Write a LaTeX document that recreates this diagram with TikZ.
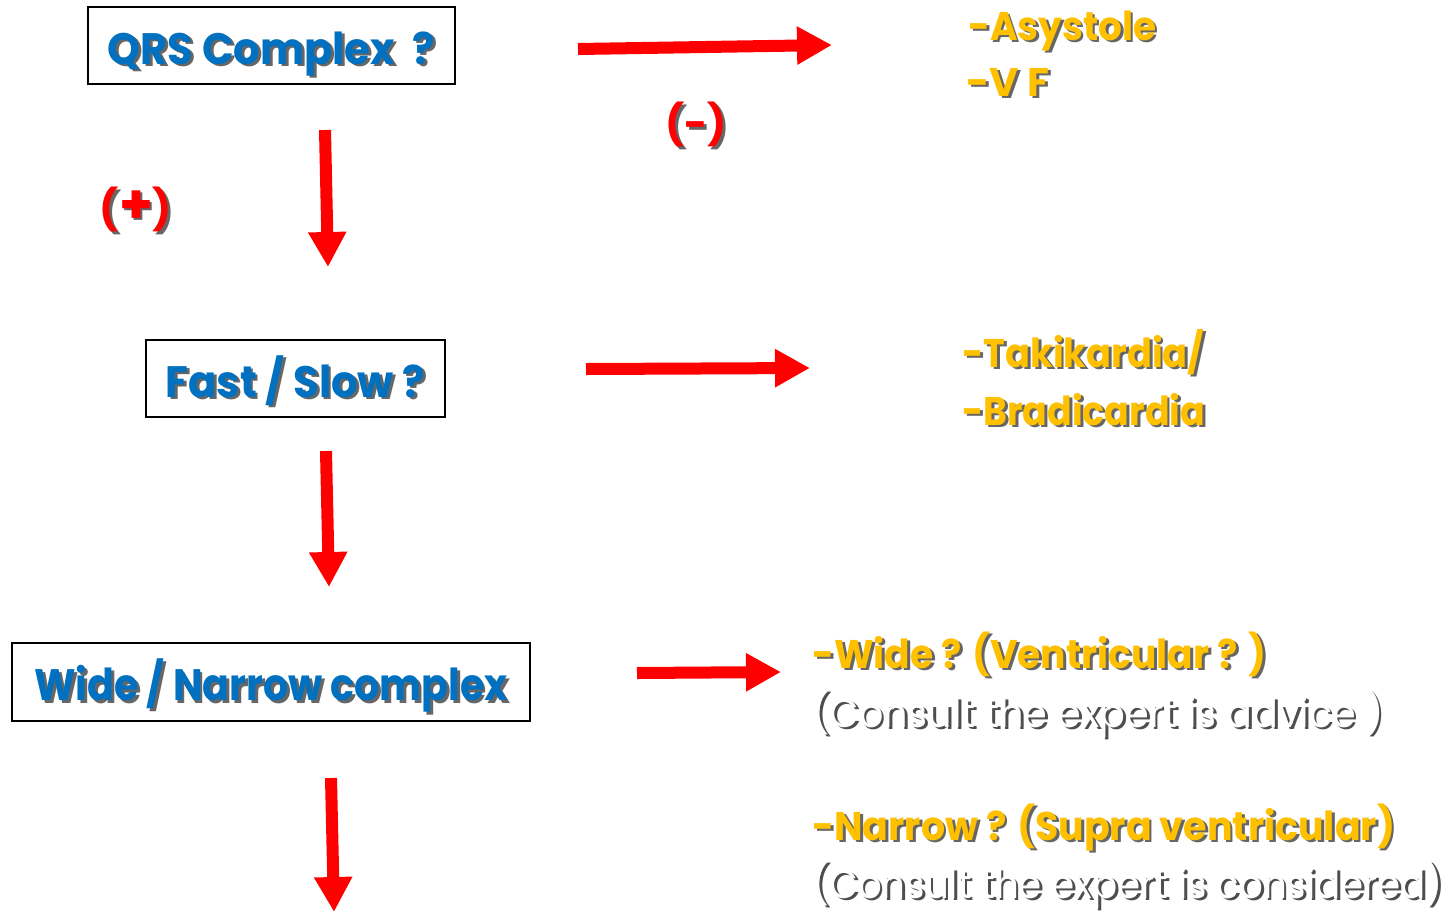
\documentclass[tikz,border=0pt]{standalone}
\usepackage{fontspec}
\setmainfont{Poppins}
\usetikzlibrary{arrows.meta}
\definecolor{qblue}{HTML}{0070C0}
\definecolor{qgold}{HTML}{FFC000}
\definecolor{qred}{HTML}{FF0000}
\definecolor{qshade}{HTML}{404040}
\definecolor{qdark}{HTML}{3A3A3A}
% text with a drop shadow below and to the right; #1 = horizontal scale
\newcommand\shadowed[3][1]{\makebox[0pt][l]{\hspace{1.4pt}\raisebox{-1.4pt}{\scalebox{#1}[1]{\textcolor{qshade!80}{#3}}}}\scalebox{#1}[1]{\textcolor{#2}{#3}}}
% white text on white needs a darker shadow to stay readable
\newcommand\whiteshadowed[2][1]{\makebox[0pt][l]{\hspace{1.4pt}\raisebox{-1.4pt}{\scalebox{#1}[1]{\textcolor{qdark!90}{#2}}}}\scalebox{#1}[1]{\textcolor{white}{#2}}}
\tikzset{
  qbox/.style={draw=black, line width=1pt, fill=white, inner sep=0pt, text height=18.5pt, text depth=0pt, font=\bfseries\fontsize{22}{26}\selectfont},
  bigarrow/.style={draw=qred, line width=6pt, -{Triangle[width=18pt,length=17.5pt]}},
  answer/.style={anchor=base west, inner sep=0pt, font=\bfseries\fontsize{20}{24}\selectfont},
  note/.style={anchor=base west, inner sep=0pt, font=\fontsize{20}{24}\selectfont},
  sign/.style={inner sep=0pt, font=\bfseries\fontsize{20}{24}\selectfont}
}
\begin{document}
\begin{tikzpicture}[x=0.5pt,y=-0.5pt]
\useasboundingbox (0,0) rectangle (1452,912);

% decision boxes
\node[qbox, minimum width=183.5pt, minimum height=38.5pt] (qrs) at (271.5,45.5) {\shadowed[0.945]{qblue}{QRS Complex\ \ ?}};
\node[qbox, minimum width=149.5pt, minimum height=38.5pt] (rate) at (295.5,378.5) {\shadowed[0.946]{qblue}{Fast / Slow ?}};
\node[qbox, minimum width=259pt, minimum height=39pt] (width) at (271,682) {\shadowed[0.896]{qblue}{Wide / Narrow complex}};

% arrow end points
\coordinate (h1s) at (578,49);  \coordinate (h1e) at (832,45);
\coordinate (h2s) at (586,369); \coordinate (h2e) at (810,368);
\coordinate (h3s) at (637,673); \coordinate (h3e) at (781,672);
\coordinate (v1s) at (325,130); \coordinate (v1e) at (328,267);
\coordinate (v2s) at (326,451); \coordinate (v2e) at (329,587);
\coordinate (v3s) at (331,778); \coordinate (v3e) at (334,912);

\draw[bigarrow] (h1s) -- (h1e);
\draw[bigarrow] (h2s) -- (h2e);
\draw[bigarrow] (h3s) -- (h3e);
\draw[bigarrow] (v1s) -- (v1e);
\draw[bigarrow] (v2s) -- (v2e);
\draw[bigarrow] (v3s) -- (v3e);

% branch signs
\node[sign] (pos) at (136,211) {\shadowed{qred}{(\raisebox{0.3pt}{\fontsize{27}{27}\selectfont +})}};
\node[sign] (neg) at (696,126) {\shadowed{qred}{(-)}};

% outcomes
\node[answer] (asys) at (968,40) {\shadowed[0.935]{qgold}{-Asystole}};
\node[answer] (vf) at (966,96) {\shadowed{qgold}{-V F}};
\node[answer] (taki) at (962,367) {\shadowed[0.918]{qgold}{-Takikardia/}};
\node[answer] (brad) at (962,425) {\shadowed[0.908]{qgold}{-Bradicardia}};
\node[answer] (wide) at (812,668) {\shadowed[0.94]{qgold}{-Wide ? (Ventricular ? )}};
\node[note] (wnote) at (812,727) {\whiteshadowed[0.953]{(Consult the expert is advice )}};
\node[answer] (narrow) at (812,840) {\shadowed[0.948]{qgold}{-Narrow ? (Supra ventricular)}};
\node[note] (nnote) at (812,898) {\whiteshadowed[0.93]{(Consult the expert is considered)}};
\end{tikzpicture}
\end{document}
